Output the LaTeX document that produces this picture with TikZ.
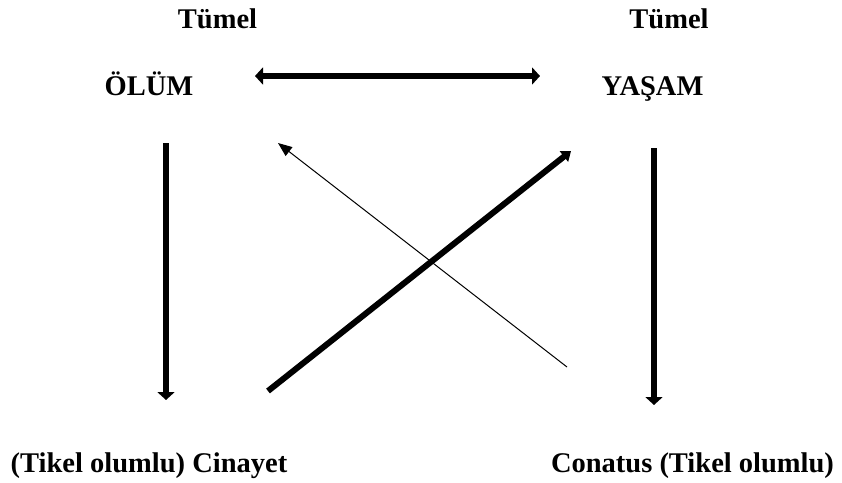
\documentclass[tikz,border=0pt]{standalone}
\usepackage{fontspec}
\setmainfont{Liberation Serif}
\usetikzlibrary{arrows.meta}
\begin{document}
\begin{tikzpicture}[x=1pt,y=-1pt,
  lbl/.style={anchor=base,inner sep=0pt,font=\fontsize{28.5}{30}\selectfont\bfseries},
  fatarrow/.style={line width=6pt,-{Triangle[length=8pt,width=17pt]}},
  bothfat/.style={line width=6.5pt,{Triangle[length=8pt,width=17pt]}-{Triangle[length=8pt,width=17pt]}},
  diagfat/.style={line width=6pt,-{Triangle[length=9pt,width=13pt]}},
  thinarrow/.style={line width=1pt,-{Triangle[length=14pt,width=11pt]}}]
\useasboundingbox (0,0) rectangle (842,482);
\node[lbl] (t1) at (217.5,28) {Tümel};
\node[lbl] (t2) at (669,28) {Tümel};
\node[lbl] (ol) at (149,95) {ÖLÜM};
\node[lbl] (ya) at (652.5,95) {YAŞAM};
\node[lbl] (c1) at (149,472) {(Tikel olumlu) Cinayet};
\node[lbl] (c2) at (692.5,472) {Conatus (Tikel olumlu)};
\coordinate (h1) at (255,76);
\coordinate (h2) at (540,76);
\coordinate (l1) at (166,143);
\coordinate (l2) at (166,400);
\coordinate (r1) at (654,148);
\coordinate (r2) at (654,405);
\coordinate (d1) at (268,391);
\coordinate (d2) at (571,151);
\coordinate (e1) at (567,367);
\coordinate (e2) at (278,143);
\draw[bothfat] (h1) -- (h2);
\draw[fatarrow] (l1) -- (l2);
\draw[fatarrow] (r1) -- (r2);
\draw[diagfat] (d1) -- (d2);
\draw[thinarrow] (e1) -- (e2);
\end{tikzpicture}
\end{document}
